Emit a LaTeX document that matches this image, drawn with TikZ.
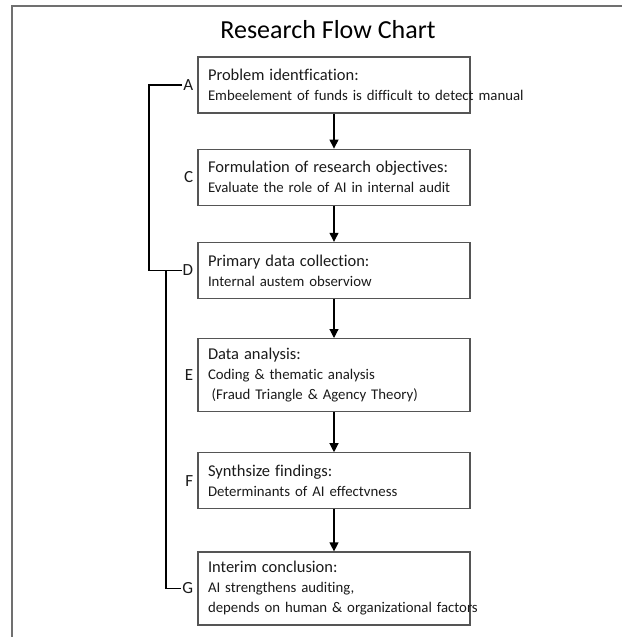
\documentclass[tikz,border=0pt]{standalone}
\usepackage{fontspec}
\setmainfont[Ligatures=NoCommon]{Carlito}
\usetikzlibrary{positioning,arrows.meta}
\definecolor{framegray}{HTML}{707070}
\definecolor{boxgray}{HTML}{555555}
\definecolor{inkgray}{HTML}{1A1A1A}
\newcommand\stagehead[1]{{\fontsize{16.5}{20}\selectfont #1}}

\begin{document}
\begin{tikzpicture}[x=1pt, y=-1pt,
    stagebox/.style = {draw=boxgray, line width=1.2pt, rectangle, text width=252pt, inner xsep=10pt,
                       align=left, text=inkgray, minimum height=56pt, font=\fontsize{14.8}{20}\selectfont},
    tall/.style = {minimum height=73pt},
    tag/.style = {font=\fontsize{17}{20}\selectfont, text=inkgray, inner sep=1pt},
    flow/.style = {-{Triangle[length=9pt,width=9pt]}, line width=1.2pt},
    bracket/.style = {line width=1.2pt}]
    \useasboundingbox (0,0) rectangle (622,637);
    % page frame (open at right and bottom)
    \coordinate (frameTL) at (12,6);
    \draw[framegray, line width=1.5pt] (12,637) -- (frameTL) -- (622,6);

    \node[font=\fontsize{26}{30}\selectfont] (title) at (328,30) {Research Flow Chart};

    % stages
    \node[stagebox] (probid) at (334,85) {\stagehead{Problem identfication:}\\
        \mbox{Embeelement of funds is difficult to detect manual}};
    \node[stagebox, below=35pt of probid] (objectives) {\stagehead{Formulation of research objectives:}\\
        Evaluate the role of AI in internal audit};
    \node[stagebox, below=36pt of objectives] (datacoll) {\stagehead{Primary data collection:}\\
        Internal austem observiow};
    \node[stagebox, tall, below=39pt of datacoll] (analysis) {\stagehead{Data analysis:}\\
        Coding \& thematic analysis\\
        \hspace{0.25em}(Fraud Triangle \& Agency Theory)};
    \node[stagebox, below=40pt of analysis] (findings) {\stagehead{Synthsize findings:}\\
        Determinants of AI effectvness};
    \node[stagebox, tall, below=42pt of findings] (conclusion) {\stagehead{Interim conclusion:}\\
        AI strengthens auditing,\\
        \mbox{depends on human \& organizational factors}};

    % letters
    \node[tag, left=3pt of probid.west] (tagA) {A};
    \node[tag, left=3pt of objectives.west] (tagC) {C};
    \node[tag, left=3pt of datacoll.west] (tagD) {D};
    \node[tag, left=3pt of analysis.west] (tagE) {E};
    \node[tag, left=3pt of findings.west] (tagF) {F};
    \node[tag, left=3pt of conclusion.west] (tagG) {G};

    % arrows
    \draw[flow] (probid) -- (objectives);
    \draw[flow] (objectives) -- (datacoll);
    \draw[flow] (datacoll) -- (analysis);
    \draw[flow] (analysis) -- (findings);
    \draw[flow] (findings) -- (conclusion);

    % brackets
    \coordinate (railone) at (149,0);
    \coordinate (railtwo) at (166,0);
    \draw[bracket] (tagA.west) -- (tagA.west -| railone) -- (tagD.west -| railone) -- (tagD.west);
    \draw[bracket] (tagD.west -| railtwo) |- (tagG.west);
\end{tikzpicture}
\end{document}
